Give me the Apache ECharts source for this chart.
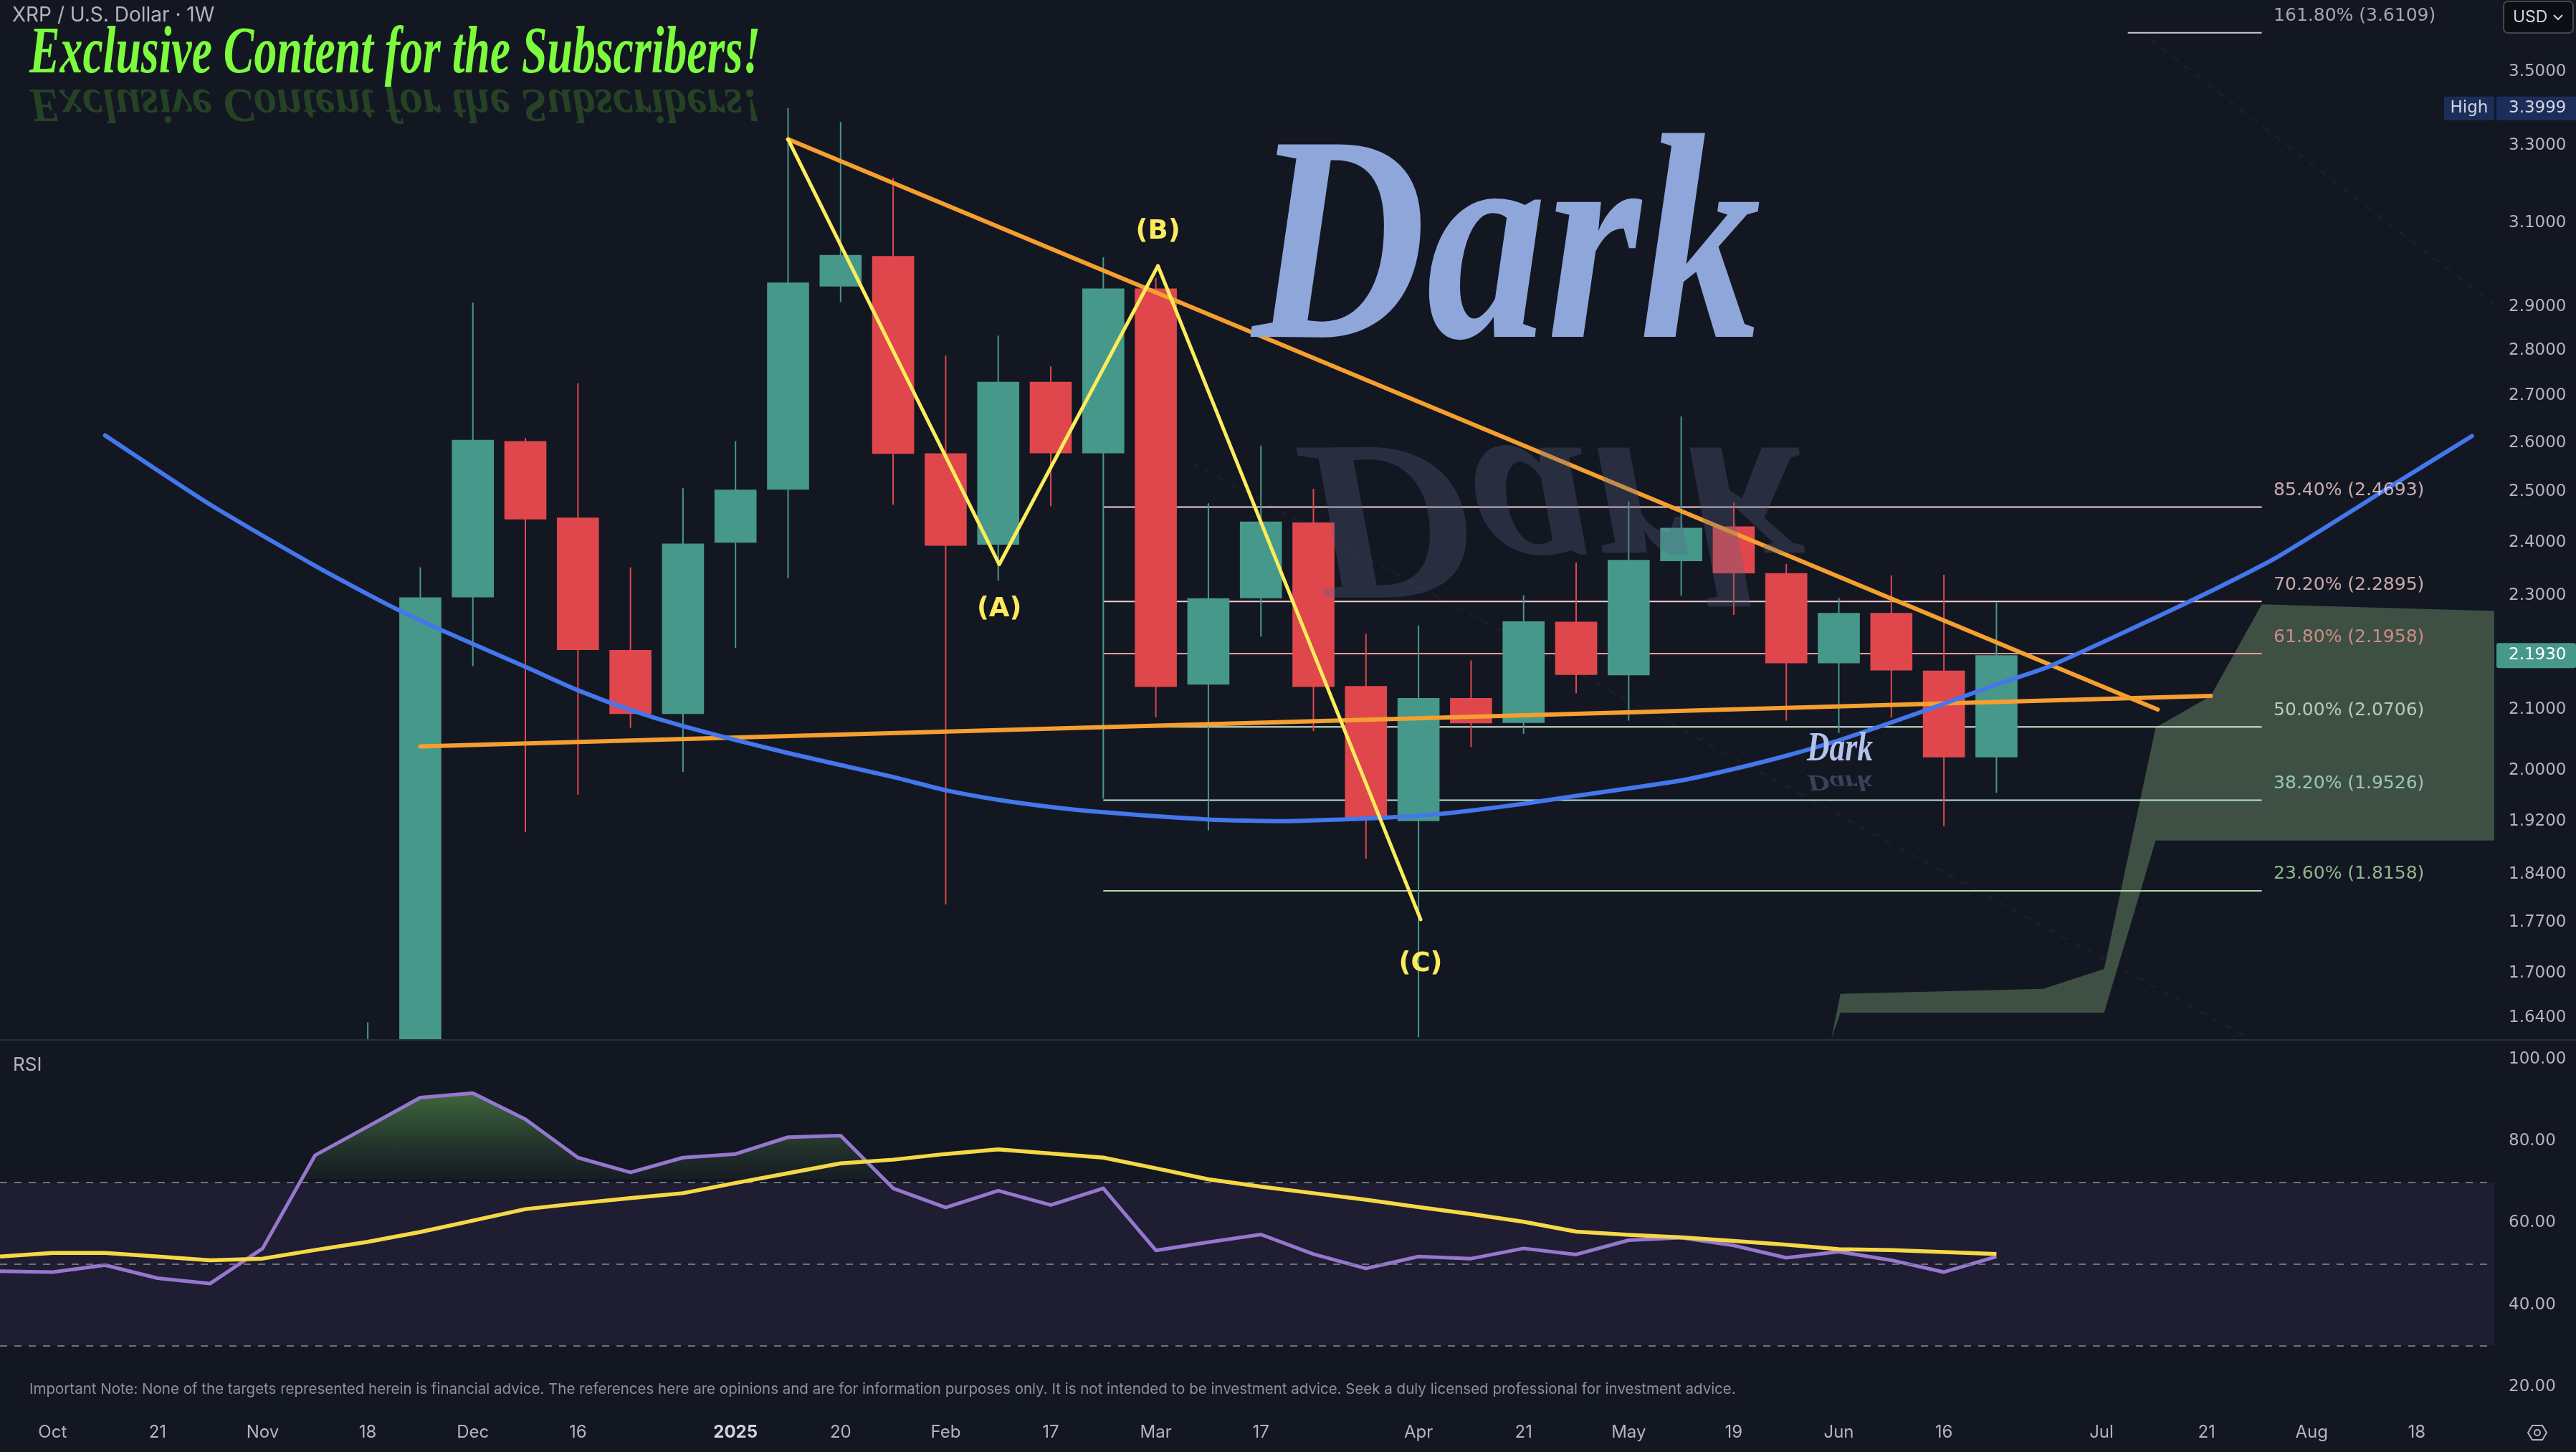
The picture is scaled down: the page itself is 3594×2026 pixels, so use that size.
<!DOCTYPE html>
<html>
<head>
<meta charset="utf-8">
<title>XRP / U.S. Dollar · 1W</title>
<script src="https://cdn.jsdelivr.net/npm/echarts@6.0.0/dist/echarts.min.js"></script>
<style>
html,body{margin:0;padding:0;background:#131722;overflow:hidden;}
#chart{width:3594px;height:2026px;}
</style>
</head>
<body>
<div id="chart"></div>
<script>
// ================= DATA =================
// weekly candles, week index 0 = week of 7 Oct 2024
const candleWeeks = [6,7,8,9,10,11,12,13,14,15,16,17,18,19,20,21,22,23,24,25,26,27,28,29,30,31,32,33,34,35,36,37];
const candleOpen  = [1.09,1.45,2.297,2.6035,2.4485,2.202,2.092,2.400,2.504,2.9466,3.0195,2.578,2.396,2.730,2.578,2.942,2.142,2.2955,2.439,2.1396,1.9201,2.119,2.077,2.2525,2.158,2.3646,2.4314,2.342,2.179,2.2687,2.166,2.0208];
const candleClose = [1.46,2.297,2.606,2.445,2.202,2.092,2.398,2.504,2.956,3.0223,2.577,2.394,2.730,2.578,2.942,2.138,2.2955,2.441,2.138,1.9257,2.119,2.0766,2.2534,2.1586,2.367,2.4286,2.3416,2.179,2.2687,2.1665,2.0208,2.1930];
const candleLow   = [1.07,1.27,2.174,1.903,1.961,2.069,1.997,2.206,2.3325,2.910,2.474,1.796,2.328,2.471,1.955,2.087,1.906,2.226,2.0635,1.863,1.6147,2.0376,2.059,2.127,2.081,2.300,2.265,2.081,2.0606,2.086,1.912,1.964];
const candleHigh  = [1.634,2.353,2.909,2.61,2.727,2.353,2.507,2.6035,3.3999,3.362,3.214,2.788,2.833,2.764,3.0165,2.967,2.477,2.594,2.506,2.2307,2.2458,2.184,2.301,2.362,2.4805,2.6553,2.478,2.359,2.296,2.338,2.339,2.288];

const rsiWeeks    = [-1,0,1,2,3,4,5,6,7,8,9,10,11,12,13,14,15,16,17,18,19,20,21,22,23,24,25,26,27,28,29,30,31,32,33,34,35,36,37];
const rsiValues   = [48.2,48.0,49.7,46.5,45.2,53.8,76.6,83.6,90.7,91.8,85.4,76.0,72.4,76.0,76.9,81.0,81.4,68.5,63.8,67.9,64.4,68.5,53.3,55.3,57.2,52.4,48.9,51.8,51.3,53.8,52.3,55.8,56.4,54.5,51.5,53.0,50.9,48.0,51.8];
const rsiMaValues = [51.8,52.7,52.7,51.8,50.9,51.3,53.4,55.4,57.8,60.6,63.4,64.8,66.1,67.3,69.8,72.2,74.6,75.5,76.9,78.0,77.0,76.0,73.4,70.7,68.9,67.3,65.7,63.9,62.2,60.3,57.9,57.1,56.5,55.6,54.7,53.6,53.4,52.9,52.4];
const rsiLevels   = [70,50,30];

const xTickWeeks  = [0,2,4,6,8,10,13,15,17,19,21,23,26,28,30,32,34,36,39,41,43,45];
const xTickLabels = ['Oct','21','Nov','18','Dec','16','2025','20','Feb','17','Mar','17','Apr','21','May','19','Jun','16','Jul','21','Aug','18'];
const priceTicks  = [3.5,3.3,3.1,2.9,2.8,2.7,2.6,2.5,2.4,2.3,2.1,2.0,1.92,1.84,1.77,1.70,1.64];
const rsiTicks    = [100,80,60,40,20];

const fibLevelNames  = ['161.80%','85.40%','70.20%','61.80%','50.00%','38.20%','23.60%'];
const fibLevelValues = [3.6109,2.4693,2.2895,2.1958,2.0706,1.9526,1.8158];
const fibStartWeeks  = [39.5,20,20,20,20,20,20];
const fibEndWeek     = 42.05;

const waveWeeks  = [14,18.02,21.04,26.04];
const waveValues = [3.3157,2.3585,2.996,1.7746];
const waveNames  = ['','(A)','(B)','(C)'];

const trendDownWeeks  = [14,40.07];
const trendDownValues = [3.3157,2.0997];
const trendFlatWeeks  = [7,41.08];
const trendFlatValues = [2.0384,2.1226];

const arcWeeks  = [1,3,5,6.4,7.41,9.05,10,11,12,14,16,17,18,19,20,22,23.46,25,26,27,28,29,30,31,32,33,34,35,36,37,38,40.71,42.3,44.67,46.05];
const arcValues = [2.6155,2.4744,2.3557,2.2828,2.2373,2.1707,2.1323,2.0989,2.0719,2.0276,1.9891,1.9682,1.9531,1.9420,1.9337,1.9226,1.9201,1.9241,1.9282,1.9363,1.9470,1.9593,1.9711,1.9836,2.0019,2.0233,2.0484,2.0780,2.1093,2.1422,2.1732,2.2911,2.3699,2.5217,2.6139];

const cloudWeeks = [33.86,34.03,37.89,39.05,40.03,41.08,42.05,46.48];
const cloudUpper = [1.613,1.6719,1.6786,1.7055,2.0693,2.1226,2.2841,2.2720];
const cloudLower = [1.613,1.6468,1.6468,1.6468,1.8905,1.8905,1.8905,1.8905];

const faintWeeksA  = [39.92,46.48];
const faintValuesA = [3.5918,2.9043];
const faintWeeksB  = [21.70,41.84];
const faintValuesB = [2.558,1.6122];

// ================= LAYOUT / STYLE =================
const W = 3594, H = 2026;
const PLOT_R = 3480;
const P_TOP = 0, P_H = 1450;
const R_TOP = 1453, R_H = 509;
const X_MIN = -1, X_MAX = 46.476;
const P_MIN = 1.6122, P_MAX = 3.7072;
const R_MIN = 15.2, R_MAX = 104.454;

const BG = '#131722';
const UP = '#46988a', DOWN = '#df474d';
const AXIS_TXT = '#b2b5be';
const FONT_UI = 'Inter, "DejaVu Sans", sans-serif';
const FONT_NUM = '"DejaVu Sans", sans-serif';
const SCRIPT_FAMILY = '"Liberation Serif", "DejaVu Serif", serif';
const FIB_COLORS = ['#c9cbd1','#f3d3d3','#f5cccc','#f09b9b','#d3ead3','#b3e2d6','#b0dcaa'];
const WAVE_COLOR = '#fcec5c';
const BODY_FRAC = 0.8;

const pairs = (xs, ys) => xs.map((x, k) => [x, ys[k]]);

const series = [];

// projected cloud
series.push({
  type: 'custom', name: 'cloud', xAxisIndex: 0, yAxisIndex: 0, z: 1, silent: true, clip: true,
  data: cloudWeeks.map((w, k) => [w, cloudUpper[k], cloudLower[k]]),
  encode: { x: 0, y: [1, 2] },
  renderItem: function (params, api) {
    if (params.dataIndex !== 0) return null;
    const pts = [];
    for (let k = 0; k < cloudWeeks.length; k++) pts.push(api.coord([cloudWeeks[k], cloudUpper[k]]));
    for (let k = cloudWeeks.length - 1; k >= 0; k--) pts.push(api.coord([cloudWeeks[k], cloudLower[k]]));
    return { type: 'polygon', shape: { points: pts }, style: { fill: '#3e5044' } };
  }
});

// faint dashed lines
[[faintWeeksA, faintValuesA], [faintWeeksB, faintValuesB]].forEach(function (p) {
  series.push({ type: 'line', xAxisIndex: 0, yAxisIndex: 0, data: pairs(p[0], p[1]), symbol: 'none', silent: true, z: 1,
    lineStyle: { color: 'rgba(120,123,134,0.10)', width: 2, type: [10, 10] } });
});

// fib lines
fibLevelValues.forEach(function (v, k) {
  series.push({ type: 'line', xAxisIndex: 0, yAxisIndex: 0, data: [[fibStartWeeks[k], v], [fibEndWeek, v]],
    symbol: 'none', silent: true, z: 2, lineStyle: { color: FIB_COLORS[k], width: 2 } });
});

// candles (custom series so that the pane clips them)
series.push({
  type: 'custom', name: 'XRPUSD', xAxisIndex: 0, yAxisIndex: 0, z: 3, clip: true, silent: true,
  data: candleWeeks.map((w, k) => [w, candleOpen[k], candleClose[k], candleLow[k], candleHigh[k]]),
  encode: { x: 0, y: [1, 2, 3, 4] },
  renderItem: function (params, api) {
    const x = api.value(0), o = api.value(1), c = api.value(2), l = api.value(3), h = api.value(4);
    const pO = api.coord([x, o]), pC = api.coord([x, c]);
    const pL = api.coord([x, l]), pH = api.coord([x, h]);
    const bw = api.coord([x + BODY_FRAC / 2, o])[0] - api.coord([x - BODY_FRAC / 2, o])[0];
    const color = c >= o ? UP : DOWN;
    const top = Math.min(pO[1], pC[1]), bot = Math.max(pO[1], pC[1]);
    return { type: 'group', children: [
      { type: 'line', shape: { x1: pH[0], y1: pH[1], x2: pL[0], y2: pL[1] }, style: { stroke: color, lineWidth: 2 } },
      { type: 'rect', shape: { x: pO[0] - bw / 2, y: top, width: bw, height: Math.max(bot - top, 1) }, style: { fill: color } }
    ] };
  }
});

// orange trend lines
[[trendDownWeeks, trendDownValues], [trendFlatWeeks, trendFlatValues]].forEach(function (p) {
  series.push({ type: 'line', xAxisIndex: 0, yAxisIndex: 0, data: pairs(p[0], p[1]), symbol: 'none', z: 5,
    lineStyle: { color: '#f59f30', width: 6, cap: 'round' } });
});

// blue arc
series.push({ type: 'line', xAxisIndex: 0, yAxisIndex: 0, data: pairs(arcWeeks, arcValues), symbol: 'none', smooth: 0.2, z: 6,
  lineStyle: { color: '#4476ec', width: 6, cap: 'round' } });

// yellow ABC zigzag
series.push({ type: 'line', xAxisIndex: 0, yAxisIndex: 0, data: pairs(waveWeeks, waveValues), symbol: 'none', z: 7,
  lineStyle: { color: WAVE_COLOR, width: 5, cap: 'round', join: 'round' } });

// wave labels
const waveLabelPos = ['', 'bottom', 'top', 'bottom'];
const waveLabelDist = [0, 44, 29, 44];
series.push({ type: 'scatter', xAxisIndex: 0, yAxisIndex: 0, z: 8, silent: true, symbolSize: 1,
  itemStyle: { color: 'rgba(0,0,0,0)' },
  data: waveWeeks.slice(1).map((w, k) => ({
    value: [w, waveValues[k + 1]],
    label: { show: true, position: waveLabelPos[k + 1], distance: waveLabelDist[k + 1], formatter: waveNames[k + 1], color: WAVE_COLOR }
  })),
  label: { color: WAVE_COLOR, opacity: 1, fontSize: 37, fontWeight: 'bold', fontFamily: FONT_NUM }
});

// fib labels
series.push({ type: 'scatter', xAxisIndex: 0, yAxisIndex: 0, z: 9, silent: true, symbolSize: 1,
  itemStyle: { color: 'rgba(0,0,0,0)' },
  data: fibLevelValues.map((v, k) => ({ value: [fibEndWeek, v], label: { color: FIB_COLORS[k] } })),
  label: { show: true, position: 'right', distance: 16, offset: [0, -23], fontSize: 25, fontFamily: FONT_NUM,
    formatter: p => fibLevelNames[p.dataIndex] + ' (' + fibLevelValues[p.dataIndex].toFixed(4) + ')' }
});

// RSI
series.push({
  id: 'rsi', type: 'line', name: 'RSI', xAxisIndex: 1, yAxisIndex: 1, z: 4, symbol: 'none',
  data: pairs(rsiWeeks, rsiValues),
  lineStyle: { color: '#9677cf', width: 5, join: 'round' },
  areaStyle: { origin: 'start', color: 'rgba(0,0,0,0)' },
  markArea: { silent: true, itemStyle: { color: '#1e1d32' }, data: [[{ yAxis: 30 }, { yAxis: 70 }]] },
  markLine: { silent: true, symbol: 'none', label: { show: false },
    lineStyle: { color: '#6f727c', width: 2, type: [10, 10] },
    data: rsiLevels.map(v => ({ yAxis: v })) }
});
series.push({ type: 'line', name: 'RSI MA', xAxisIndex: 1, yAxisIndex: 1, z: 5, symbol: 'none',
  data: pairs(rsiWeeks, rsiMaValues), lineStyle: { color: '#f5d846', width: 5.5, join: 'round' } });

const option = {
  animation: false,
  backgroundColor: BG,
  textStyle: { fontFamily: FONT_UI },
  grid: [
    { left: 0, top: P_TOP, width: PLOT_R, height: P_H },
    { left: 0, top: R_TOP, width: PLOT_R, height: R_H }
  ],
  xAxis: [
    { type: 'value', gridIndex: 0, min: X_MIN, max: X_MAX, show: false },
    { type: 'value', gridIndex: 1, min: X_MIN, max: X_MAX, interval: 1,
      axisLine: { show: false }, axisTick: { show: false }, splitLine: { show: false },
      axisLabel: { show: true, margin: 25, color: AXIS_TXT, fontSize: 24, fontFamily: FONT_UI,
        showMinLabel: false, showMaxLabel: false,
        formatter: function (v) {
          const r = Math.round(v);
          if (Math.abs(v - r) > 1e-6) return '';
          const k = xTickWeeks.indexOf(r);
          if (k < 0) return '';
          return xTickLabels[k] === '2025' ? '{b|2025}' : xTickLabels[k];
        },
        rich: { b: { fontWeight: 'bold', fontSize: 24, color: '#d1d4dc', fontFamily: FONT_UI } }
      } }
  ],
  yAxis: [
    { type: 'log', gridIndex: 0, position: 'right', min: P_MIN, max: P_MAX, logBase: 10,
      axisLine: { show: false }, axisTick: { show: false }, splitLine: { show: false },
      axisLabel: { customValues: priceTicks, formatter: v => Number(v).toFixed(4), color: AXIS_TXT,
        fontSize: 23, fontFamily: FONT_NUM, margin: 20 } },
    { type: 'value', gridIndex: 1, position: 'right', min: R_MIN, max: R_MAX,
      axisLine: { show: false }, axisTick: { show: false }, splitLine: { show: false },
      axisLabel: { customValues: rsiTicks, formatter: v => Number(v).toFixed(2), color: AXIS_TXT,
        fontSize: 23, fontFamily: FONT_NUM, margin: 20 } }
  ],
  series: series
};

const chart = echarts.init(document.getElementById('chart'), null, { renderer: 'canvas', width: W, height: H });
chart.setOption(option);

// ---------- computed overlays ----------
function measure(text, font) {
  const c = document.createElement('canvas').getContext('2d');
  c.font = font; return c.measureText(text).width;
}
const yR100 = chart.convertToPixel({ yAxisIndex: 1 }, 100);
const yR70 = chart.convertToPixel({ yAxisIndex: 1 }, 70);
const rsiGrad = new echarts.graphic.LinearGradient(0, yR100, 0, yR70, [
  { offset: 0, color: '#5a9a4e' },
  { offset: 0.30, color: '#4f8447' },
  { offset: 0.63, color: '#2f4d33' },
  { offset: 0.97, color: 'rgba(30,38,40,0.6)' },
  { offset: 1, color: 'rgba(0,0,0,0)' }
], true);

const highValue = Math.max.apply(null, candleHigh);
const lastValue = candleClose[candleClose.length - 1];
const yHigh = chart.convertToPixel({ yAxisIndex: 0 }, highValue);
const yLast = chart.convertToPixel({ yAxisIndex: 0 }, lastValue);

const exText = 'Exclusive Content for the Subscribers!';
const exFont = 'italic bold 94px ' + SCRIPT_FAMILY;
const exScale = 1020 / measure(exText, exFont);
const dkFont = 'italic bold 410px ' + SCRIPT_FAMILY;
const dkScale = 710 / measure('Dark', dkFont);
const sdFont = 'italic bold 56px ' + SCRIPT_FAMILY;
const sdScale = 92 / measure('Dark', sdFont);

const graphics = [
  { type: 'line', z: 50, shape: { x1: 0, y1: 1451, x2: W, y2: 1451 }, style: { stroke: '#2a2e39', lineWidth: 2 } },
  { type: 'text', z: 50, x: 17, y: 22, style: { text: 'XRP / U.S. Dollar · 1W', font: '28px ' + FONT_UI, fill: AXIS_TXT, verticalAlign: 'middle' } },
  // exclusive banner + reflection
  { type: 'text', z: 60, x: 41, y: 142, scaleX: exScale, scaleY: -0.72,
    style: { text: exText, font: exFont, fill: 'rgba(55,110,40,0.5)', verticalAlign: 'middle' } },
  { type: 'text', z: 61, x: 41, y: 77, scaleX: exScale,
    style: { text: exText, font: exFont, fill: '#7cfc3d', verticalAlign: 'middle',
      shadowColor: 'rgba(0,0,0,0.95)', shadowBlur: 6, shadowOffsetX: 3, shadowOffsetY: 4 } },
  // big Dark + reflection
  { type: 'text', z: 40, x: 1811, y: 707, scaleX: dkScale, scaleY: -0.78,
    style: { text: 'Dark', font: dkFont, fill: 'rgba(90,100,135,0.3)', verticalAlign: 'middle' } },
  { type: 'text', z: 41, x: 1747, y: 364, scaleX: dkScale,
    style: { text: 'Dark', font: dkFont, fill: '#8fa6da', verticalAlign: 'middle',
      shadowColor: 'rgba(0,0,0,0.95)', shadowBlur: 14, shadowOffsetX: 6, shadowOffsetY: 9 } },
  // small Dark + reflection
  { type: 'text', z: 40, x: 2521, y: 1090, scaleX: sdScale, scaleY: -0.55,
    style: { text: 'Dark', font: sdFont, fill: 'rgba(130,145,185,0.35)', verticalAlign: 'middle' } },
  { type: 'text', z: 41, x: 2521, y: 1047, scaleX: sdScale,
    style: { text: 'Dark', font: sdFont, fill: '#b4c3ec', verticalAlign: 'middle',
      shadowColor: 'rgba(0,0,0,0.9)', shadowBlur: 4, shadowOffsetX: 2, shadowOffsetY: 3 } },
  // RSI pane title and disclaimer
  { type: 'text', z: 50, x: 18, y: 1486, style: { text: 'RSI', font: '26px ' + FONT_UI, fill: AXIS_TXT, verticalAlign: 'middle' } },
  { type: 'text', z: 50, x: 41, y: 1939, style: {
      text: 'Important Note: None of the targets represented herein is financial advice. The references here are opinions and are for information purposes only. It is not intended to be investment advice. Seek a duly licensed professional for investment advice.',
      font: '20.5px ' + FONT_UI, fill: '#8e919a', verticalAlign: 'middle' } },
  // USD currency box
  { type: 'rect', z: 50, shape: { x: 3493, y: 2, width: 97, height: 44, r: 6 }, style: { fill: '#0c0e14', stroke: '#434651', lineWidth: 2 } },
  { type: 'text', z: 51, x: 3506, y: 24, style: { text: 'USD', font: '23px ' + FONT_UI, fill: '#d1d4dc', verticalAlign: 'middle' } },
  { type: 'polyline', z: 51, shape: { points: [[3563, 21], [3569, 27], [3575, 21]] }, style: { stroke: '#d1d4dc', lineWidth: 2, fill: null } },
  // High marker
  { type: 'rect', z: 50, shape: { x: 3410, y: yHigh - 16, width: 70, height: 33 }, style: { fill: '#1c2d5a' } },
  { type: 'text', z: 51, x: 3445, y: yHigh, style: { text: 'High', font: '23px ' + FONT_NUM, fill: '#d1d4dc', align: 'center', verticalAlign: 'middle' } },
  { type: 'rect', z: 50, shape: { x: 3483, y: yHigh - 16, width: 111, height: 33 }, style: { fill: '#1c2d5a' } },
  { type: 'text', z: 51, x: 3500, y: yHigh, style: { text: highValue.toFixed(4), font: '23px ' + FONT_NUM, fill: '#d1d4dc', verticalAlign: 'middle' } },
  // last price marker
  { type: 'rect', z: 50, shape: { x: 3483, y: yLast - 17, width: 111, height: 35, r: 3 }, style: { fill: UP } },
  { type: 'text', z: 51, x: 3500, y: yLast, style: { text: lastValue.toFixed(4), font: '23px ' + FONT_NUM, fill: '#ffffff', verticalAlign: 'middle' } },
  // settings icon
  { type: 'polygon', z: 50, shape: { points: [[3527, 1999], [3533, 1989], [3547, 1989], [3553, 1999], [3547, 2009], [3533, 2009]] }, style: { stroke: AXIS_TXT, lineWidth: 2, fill: null } },
  { type: 'circle', z: 50, shape: { cx: 3540, cy: 1999, r: 4 }, style: { stroke: AXIS_TXT, lineWidth: 2, fill: null } }
];

chart.setOption({
  series: [{ id: 'rsi', areaStyle: { origin: 'start', color: rsiGrad } }],
  graphic: graphics
});
</script>
</body>
</html>
